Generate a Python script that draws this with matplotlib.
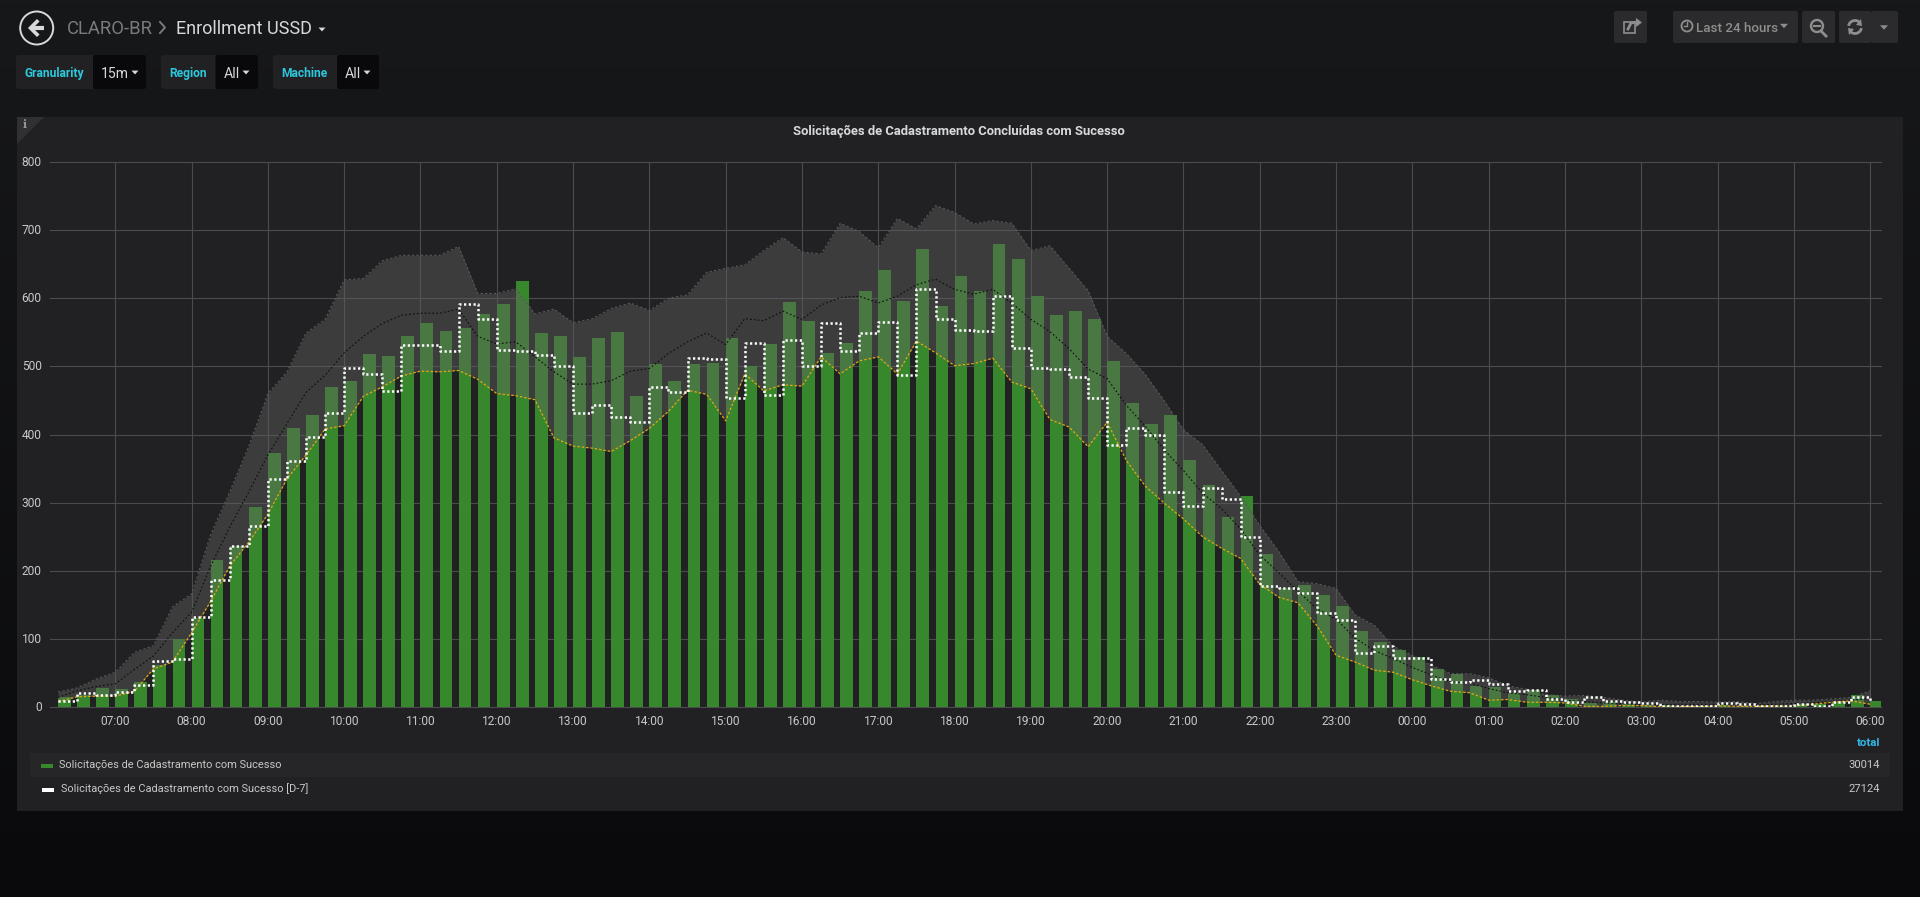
import matplotlib
matplotlib.use('Agg')
import matplotlib.pyplot as plt
import matplotlib.dates as mdates
import numpy as np
import pandas as pd
from matplotlib.patches import Circle, FancyBboxPatch, Polygon, Rectangle, Arc
from matplotlib.transforms import ScaledTranslation

plt.rcParams['font.family'] = ['Roboto', 'DejaVu Sans']

# 15 minute buckets, 06:15 to 06:00 next day
times = pd.date_range('2018-01-01 06:15', periods=96, freq='15min')

bars = [15, 17, 28, 26, 36, 62, 100, 131, 216, 237, 293, 373, 409, 429, 469, 479,
        518, 515, 544, 563, 552, 557, 577, 592, 626, 549, 544, 514, 542, 550, 457, 503,
        479, 503, 505, 542, 500, 533, 595, 567, 519, 535, 610, 642, 596, 672, 588, 632,
        611, 680, 657, 604, 576, 582, 569, 508, 446, 415, 429, 362, 326, 279, 309, 224,
        175, 179, 164, 148, 112, 96, 84, 73, 56, 48, 31, 29, 20, 25, 17, 12,
        6, 7, 5, 3.5, 3, 2, 2, 3, 2, 1.5, 2, 4, 4, 8, 17, 9]

band_upper = [22, 28, 41, 51, 80, 90, 147, 166, 253, 316, 383, 460, 492, 549, 569, 627,
              629, 655, 663, 663, 663, 676, 607, 607, 614, 577, 584, 564, 570, 585, 593, 582,
              600, 605, 638, 644, 649, 670, 689, 668, 665, 710, 698, 674, 717, 702, 736, 726,
              709, 714, 710, 670, 677, 644, 611, 544, 519, 488, 449, 407, 385, 347, 309, 266,
              228, 184, 181, 174, 135, 120, 89, 76, 61, 49, 49, 43, 31, 26, 18, 16,
              17, 14, 10, 7, 10, 8, 8, 7, 8, 5, 8, 10, 10, 12, 14, 24]

band_lower = [8, 15, 16, 16, 23, 56, 66, 109, 155, 207, 242, 283, 335, 370, 408, 413,
              456, 470, 486, 493, 492, 494, 481, 460, 457, 451, 395, 383, 380, 375, 391, 409,
              434, 465, 459, 420, 489, 464, 473, 471, 514, 489, 508, 514, 489, 537, 520, 501,
              504, 512, 477, 467, 422, 411, 382, 418, 362, 324, 299, 276, 250, 233, 218, 180,
              161, 153, 119, 76, 66, 54, 51, 40, 31, 23, 21, 10, 11, 7, 7, 6,
              1, 1, 2, 2, 0.5, 0.5, 0.5, 1.5, 1, 1, 1.5, 1.5, 4, 7, 9, 4]

band_mean = [14, 24, 30, 34, 55, 75, 109, 139, 207, 264, 316, 370, 416, 462, 487, 520,
             544, 563, 575, 578, 578, 584, 544, 533, 536, 514, 492, 474, 474, 479, 493, 497,
             519, 536, 549, 532, 570, 567, 581, 569, 590, 601, 603, 593, 603, 620, 628, 613,
             606, 613, 593, 569, 551, 526, 496, 482, 443, 412, 377, 347, 314, 291, 261, 223,
             197, 170, 144, 129, 101, 83, 71, 58, 47, 37, 35, 27, 21, 18, 14, 10,
             8, 6, 5, 4, 3.5, 4, 4, 4, 4, 3, 4, 5, 6, 8, 10, 13]

d7 = [9, 20, 18, 22, 32, 67, 71, 132, 186, 236, 265, 334, 361, 397, 432, 498,
      489, 464, 532, 532, 522, 591, 569, 524, 522, 516, 501, 432, 444, 426, 419, 469,
      463, 513, 511, 454, 535, 458, 538, 500, 563, 523, 549, 565, 488, 614, 569, 554,
      552, 604, 527, 498, 496, 484, 454, 385, 410, 399, 316, 295, 321, 305, 250, 177,
      175, 168, 138, 128, 79, 89, 72, 72, 41, 37, 40, 34, 23, 25, 12, 7,
      14, 9, 7, 6, 2, 2, 2, 6, 5, 1.5, 2, 5, 2, 8, 14, 8]

yticks = [0, 100, 200, 300, 400, 500, 600, 700, 800]
series_names = ['Solicitações de Cadastramento com Sucesso',
                'Solicitações de Cadastramento com Sucesso [D-7]']
series_totals = ['30014', '27124']
title = 'Solicitações de Cadastramento Concluídas com Sucesso'

W, H = 1920, 897
def pt(px):
    return px * 0.72

fig = plt.figure(figsize=(W / 100, H / 100), dpi=100)

# page chrome is drawn in pixel coords
bg = fig.add_axes([0, 0, 1, 1], zorder=0)
grad = np.linspace(0, 1, 256).reshape(-1, 1, 1)
top = np.array([23, 24, 26]) / 255
bottom = np.array([10, 10, 12]) / 255
bg.imshow(top + (bottom - top) * grad, extent=(0, W, H, 0), aspect='auto')
bg.set_xlim(0, W)
bg.set_ylim(H, 0)
bg.axis('off')

def box(x0, y0, x1, y1, color, r=2):
    bg.add_patch(FancyBboxPatch((x0, y0), x1 - x0, y1 - y0, boxstyle='round,pad=0,rounding_size=%d' % r,
                                fc=color, ec='none'))

def caret(x, y, s, color):
    bg.add_patch(Polygon([(x - s, y - s * 0.55), (x + s, y - s * 0.55), (x, y + s * 0.55)], fc=color, ec='none'))

def label(x, y, s, color, px, ha='left', weight='normal'):
    bg.text(x, y - 0.5, s, color=color, fontsize=pt(px), ha=ha, va='center_baseline', fontweight=weight)

# header
bg.add_patch(Circle((36.7, 28), 16.5, fc='none', ec='#d8d9da', lw=1.4))
bg.plot([44, 33], [28, 28], color='#d8d9da', lw=3, solid_capstyle='butt')
bg.plot([37, 30.5, 37], [21.5, 28, 34.5], color='#d8d9da', lw=2.6, solid_joinstyle='miter')
label(67, 27.5, 'CLARO-BR', '#7b7b7b', 18.5)
bg.plot([160, 165, 160], [22, 27.5, 33], color='#7b7b7b', lw=1.4)
label(176, 27.5, 'Enrollment USSD', '#d8d9da', 18)
caret(322, 29.5, 3.5, '#d8d9da')

# template variables
for x0, xm, x1, name, value, tx, cx in [(16, 93, 146, 'Granularity', '15m', 101, 135),
                                        (161, 215.5, 258, 'Region', 'All', 224, 246),
                                        (273, 337, 379, 'Machine', 'All', 345, 367)]:
    box(x0, 55, x1, 89, '#212124', 3)
    box(xm, 55, x1, 89, '#09090b', 2)
    label(x0 + 8.5, 72.5, name, '#2cc8dc', 12, weight='bold')
    label(tx, 73.5, value, '#d8d9da', 14)
    caret(cx, 72.5, 3.5, '#d8d9da')

# top right buttons
for x0, x1 in [(1614, 1647), (1673, 1798), (1802, 1835), (1839, 1871), (1871, 1898)]:
    box(x0, 11, x1, 43, '#2b2b2d', 2)
grey = '#8e8e8e'
bg.add_patch(Rectangle((1624, 22), 11, 11, fc='none', ec=grey, lw=1.2))
bg.plot([1628, 1631, 1637], [29, 23, 22], color=grey, lw=2)
bg.add_patch(Polygon([(1636, 18), (1642, 22.5), (1636, 27)], fc=grey, ec='none'))
bg.add_patch(Circle((1687, 26), 5.5, fc='none', ec=grey, lw=1.3))
bg.plot([1687, 1687, 1684], [22.5, 26.5, 26.5], color=grey, lw=1)
label(1696, 27, 'Last 24 hours', grey, 13.4, weight='medium')
caret(1784, 26, 4, grey)
bg.add_patch(Circle((1817, 26), 6, fc='none', ec=grey, lw=1.7))
bg.plot([1821, 1826], [31, 36], color=grey, lw=2)
bg.plot([1814, 1820], [26, 26], color=grey, lw=1.5)
bg.add_patch(Arc((1855, 27), 13, 13, theta1=190, theta2=320, ec=grey, lw=2))
bg.add_patch(Arc((1855, 27), 13, 13, theta1=10, theta2=140, ec=grey, lw=2))
bg.add_patch(Polygon([(1861, 19), (1862, 26), (1856, 25)], fc=grey, ec='none'))
bg.add_patch(Polygon([(1849, 35), (1848, 28), (1854, 29)], fc=grey, ec='none'))
caret(1884, 27.5, 4, grey)

# panel
bg.add_patch(Rectangle((17, 117), 1886, 694, fc='#212124', ec='none'))
bg.add_patch(Polygon([(17, 117), (44, 117), (17, 144)], fc='#303033', ec='none'))
bg.text(25, 125, 'i', color='#9a9a9a', fontsize=pt(11), ha='center', va='center', family='DejaVu Serif', fontweight='bold')
label(959, 130, title, '#d8d9da', 13, ha='center', weight='bold')

# legend
bg.add_patch(Rectangle((30, 753), 1860, 24, fc='#262628', ec='none'))
label(1880, 742, 'total', '#33b5e5', 11.5, ha='right', weight='bold')
bg.add_patch(Rectangle((41, 764.5), 12, 3.5, fc='#37872d', ec='none'))
bg.add_patch(Rectangle((42, 788.5), 12, 3.5, fc='white', ec='none'))
label(59, 764, series_names[0], '#c8c8c8', 11)
label(61, 788, series_names[1], '#c8c8c8', 11)
label(1880, 764, series_totals[0], '#c8c8c8', 11.3, ha='right')
label(1880, 788, series_totals[1], '#c8c8c8', 11.3, ha='right')

# graph
px_l, px_r, px_t, px_b = 50, 1881, 162, 707
ax = fig.add_axes([px_l / W, 1 - px_b / H, (px_r - px_l) / W, (px_b - px_t) / H], zorder=1)
ax.patch.set_alpha(0)
bar_w = pd.Timedelta(minutes=10)
ax.bar(times, bars, width=bar_w / pd.Timedelta(days=1), align='edge', color='#37872d', zorder=2)
ax.fill_between(times, band_lower, band_upper, color='#636363', alpha=0.41, lw=0, zorder=3)
ax.plot(times, band_upper, color='#58585a', lw=0.8, ls=(0, (2, 2)), zorder=4)
ax.plot(times, band_mean, color='#0c0c0c', lw=0.8, ls=(0, (1.5, 2)), zorder=4)
ax.plot(times, band_lower, color='#e0aa10', lw=0.9, ls=(0, (2, 1.5)), zorder=4)
ax.step(times, d7, where='post', color='white', lw=1.8, ls=(0, (0.9, 1)), zorder=5)

one_hour_px = 76.3
t0 = pd.Timestamp('2018-01-01 07:00')
ax.set_xlim(t0 - pd.Timedelta(hours=(115.3 - px_l) / one_hour_px),
            t0 + pd.Timedelta(hours=(px_r - 115.3) / one_hour_px))
ax.set_ylim(0, 800)
ax.set_yticks(yticks)
ax.xaxis.set_major_locator(mdates.HourLocator())
ax.xaxis.set_major_formatter(mdates.DateFormatter('%H:%M'))
ax.tick_params(length=0, colors='#c8c8c8', labelsize=pt(12))
ax.tick_params(axis='y', pad=6)
ax.tick_params(axis='x', pad=6)
ax.grid(True, color='#4b4b4d', lw=0.8, zorder=1)
ax.set_axisbelow(True)
for s in ax.spines.values():
    s.set_visible(False)
for g in ax.get_ygridlines():
    g.set_clip_on(False)
# y labels sit about a pixel above their gridline
up = ScaledTranslation(0, 1 / 100, fig.dpi_scale_trans)
for t in ax.get_yticklabels():
    t.set_transform(t.get_transform() + up)

fig.savefig('out.png', dpi=100)
